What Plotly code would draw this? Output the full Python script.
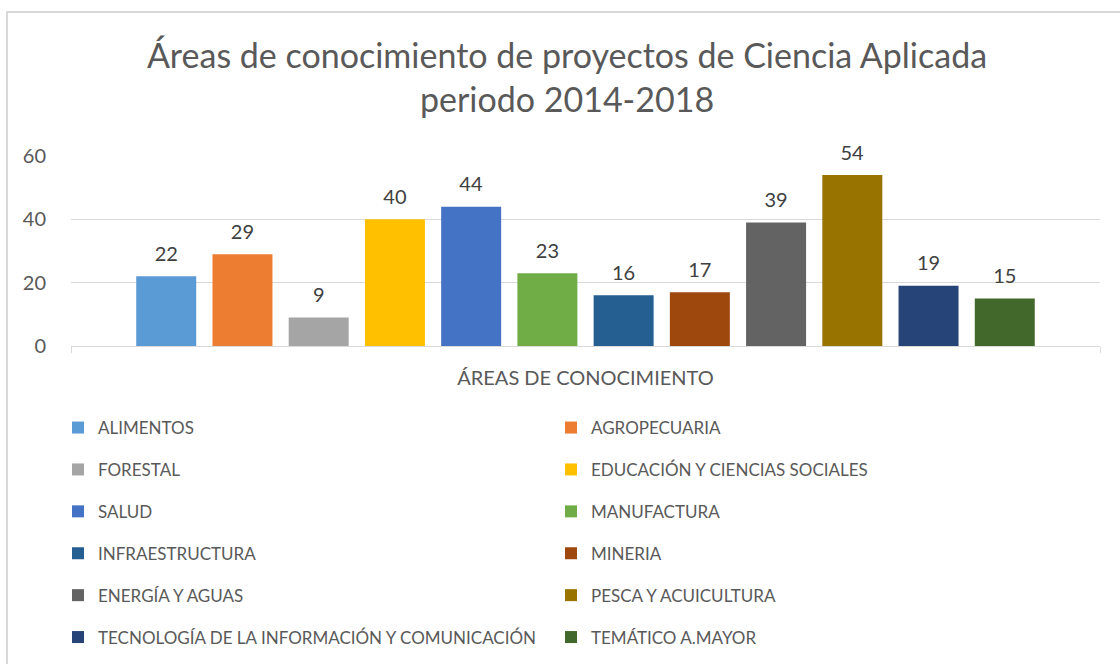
import plotly.graph_objects as go

categories = ["ALIMENTOS", "AGROPECUARIA", "FORESTAL", "EDUCACIÓN Y CIENCIAS SOCIALES",
              "SALUD", "MANUFACTURA", "INFRAESTRUCTURA", "MINERIA", "ENERGÍA Y AGUAS",
              "PESCA Y ACUICULTURA", "TECNOLOGÍA DE LA INFORMACIÓN Y COMUNICACIÓN",
              "TEMÁTICO A.MAYOR"]
values = [22, 29, 9, 40, 44, 23, 16, 17, 39, 54, 19, 15]
colors = ["#5B9BD5", "#ED7D31", "#A5A5A5", "#FFC000", "#4472C4", "#70AD47",
          "#255E91", "#9E480E", "#636363", "#997300", "#264478", "#43682B"]
x_title = "ÁREAS DE CONOCIMIENTO"
title = "Áreas de conocimiento de proyectos de Ciencia Aplicada<br>periodo 2014-2018"
y_ticks = [0, 20, 40, 60]

FONT = "Lato"
W, H = 1120, 664
ML, MR, MT, MB = 71, 20, 156, 318
PW, PH = W - ML - MR, H - MT - MB

def px_x(p):
    return (p - ML) / PW

def px_y(p):
    return (H - MB - p) / PH

fig = go.Figure()
for i, (name, v, c) in enumerate(zip(categories, values, colors)):
    fig.add_trace(go.Bar(
        x=[""], y=[v], name=name,
        marker=dict(color=c, line=dict(width=0)),
        text=[v],
        texttemplate="<span style='font-size:20px'>%{y}</span><br>&nbsp;",
        textposition="outside",
        textfont=dict(family=FONT, size=8, color="#404040"),
        constraintext="none",
        cliponaxis=False,
        legend="legend" if i % 2 == 0 else "legend2",
        legendgroup=f"g{i}",
        hoverinfo="skip",
    ))

legend_common = dict(
    font=dict(family=FONT, size=17, color="#595959"),
    orientation="v", tracegroupgap=16.8, bgcolor="rgba(0,0,0,0)",
    xanchor="left", yanchor="top", itemclick=False, itemdoubleclick=False,
)

border = dict(color="#D9D9D9", width=2)

fig.update_layout(
    width=W, height=H,
    margin=dict(l=ML, r=MR, t=MT, b=MB, autoexpand=False),
    paper_bgcolor="white", plot_bgcolor="white",
    barmode="group", bargap=0.111, bargroupgap=0.213,
    title=dict(text=title, x=567 / W, xanchor="center", xref="container",
               y=1 - 68 / H, yanchor="middle", yref="container",
               font=dict(family=FONT, size=34, color="#595959")),
    font=dict(family=FONT, color="#595959"),
    showlegend=True,
    legend=dict(x=px_x(58), y=px_y(410), **legend_common),
    legend2=dict(x=px_x(551), y=px_y(410), **legend_common),
    xaxis=dict(
        showticklabels=False, showgrid=False, zeroline=False,
        showline=True, linecolor="#D9D9D9", linewidth=1,
        ticks="outside", tickson="boundaries", ticklen=6, tickcolor="#D9D9D9",
        title=dict(text=x_title, standoff=24,
                   font=dict(family=FONT, size=20, color="#595959")),
        fixedrange=True,
    ),
    yaxis=dict(
        range=[0, 60], tickvals=y_ticks, showgrid=True, gridcolor="#D9D9D9",
        gridwidth=1, zeroline=False, showline=False, ticks="",
        ticklabelstandoff=24,
        tickfont=dict(family=FONT, size=20, color="#595959"),
        fixedrange=True,
    ),
    shapes=[
        dict(type="line", xref="paper", yref="paper",
             x0=px_x(7), x1=px_x(1125), y0=px_y(12), y1=px_y(12),
             line=border, layer="below"),
        dict(type="line", xref="paper", yref="paper",
             x0=px_x(7), x1=px_x(7), y0=px_y(11), y1=px_y(670),
             line=border, layer="below"),
    ],
)

fig.write_html(
    "out.html",
    config={"displayModeBar": False},
    post_script=(
        "document.documentElement.style.overflow='hidden';"
        "document.body.style.margin='0';document.body.style.overflow='hidden';"
    ),
)
